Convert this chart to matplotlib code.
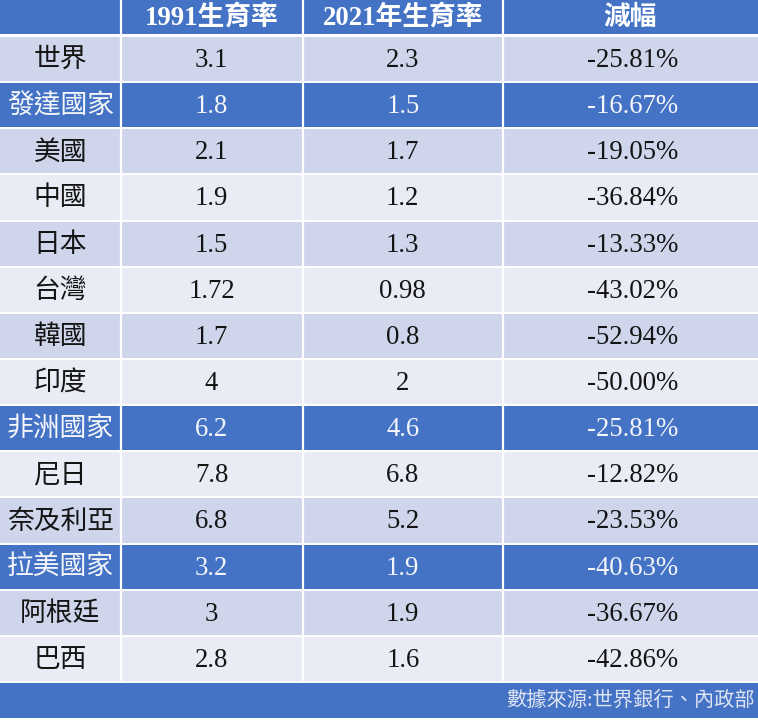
import matplotlib
matplotlib.use("Agg")
import matplotlib.pyplot as plt
from matplotlib.patches import Rectangle

# ---- data ----
headers = ["", "1991生育率", "2021年生育率", "減幅"]
regions = ["世界", "發達國家", "美國", "中國", "日本", "台灣", "韓國", "印度",
           "非洲國家", "尼日", "奈及利亞", "拉美國家", "阿根廷", "巴西"]
rate_1991 = [3.1, 1.8, 2.1, 1.9, 1.5, 1.72, 1.7, 4, 6.2, 7.8, 6.8, 3.2, 3, 2.8]
rate_2021 = [2.3, 1.5, 1.7, 1.2, 1.3, 0.98, 0.8, 2, 4.6, 6.8, 5.2, 1.9, 1.9, 1.6]
decline = [-25.81, -16.67, -19.05, -36.84, -13.33, -43.02, -52.94, -50.00,
           -25.81, -12.82, -23.53, -40.63, -36.67, -42.86]
highlight = ["發達國家", "非洲國家", "拉美國家"]
source = "數據來源:世界銀行、內政部"

# ---- layout ----
W, H = 758, 720
col_edges = [0, 120.5, 302.5, 503, 758]
header_top, header_bot = 0, 34.5
row_top, row_h = 36, 46.14
footer_bot = 718

BLUE = "#4472C4"
BAND1 = "#CFD5EA"
BAND2 = "#E9EBF5"
fam = ["Liberation Serif", "Noto Sans CJK TC", "DejaVu Sans"]
FS = 19.3

fig = plt.figure(figsize=(W / 100, H / 100), dpi=100)
fig.patch.set_facecolor("white")
ax = fig.add_axes([0, 0, 1, 1])
ax.set_xlim(0, W)
ax.set_ylim(H, 0)
ax.axis("off")

# header
ax.add_patch(Rectangle((0, header_top), W, header_bot - header_top, facecolor=BLUE, edgecolor="none"))
for j, h in enumerate(headers):
    xc = (col_edges[j] + col_edges[j + 1]) / 2
    ax.text(xc, (header_top + header_bot) / 2 + 1, h, ha="center", va="center",
            fontsize=FS, fontweight="bold", color="white", family=fam)

n = len(regions)
for i in range(n):
    y0 = row_top + i * row_h
    hl = regions[i] in highlight
    bg = BLUE if hl else (BAND1 if i % 2 == 0 else BAND2)
    tc = "#F4F6FB" if hl else "#141414"
    ax.add_patch(Rectangle((0, y0), W, row_h, facecolor=bg, edgecolor="none"))
    vals = [regions[i], f"{rate_1991[i]:g}", f"{rate_2021[i]:g}", f"{decline[i]:.2f}%"]
    for j, v in enumerate(vals):
        xc = (col_edges[j] + col_edges[j + 1]) / 2
        ax.text(xc + (2 if j == 3 else 0), y0 + row_h / 2 + 1.5, v, ha="center", va="center",
                fontsize=FS, color=tc, family=fam)
    # horizontal separator
    ax.plot([0, W], [y0, y0], color="white", lw=1.4, solid_capstyle="butt")

table_bot = row_top + n * row_h
# vertical separators
for x in col_edges[1:-1]:
    ax.plot([x, x], [header_top, table_bot], color="white", lw=1.6, solid_capstyle="butt")
# thick white line under header
ax.add_patch(Rectangle((0, header_bot - 0.5), W, row_top - header_bot + 1, facecolor="white", edgecolor="none"))

# footer
ax.add_patch(Rectangle((0, table_bot), W, footer_bot - table_bot, facecolor=BLUE, edgecolor="none"))
ax.plot([0, W], [table_bot, table_bot], color="white", lw=1.4)
ax.text(W - 3, (table_bot + footer_bot) / 2 + 1.5, source, ha="right", va="center",
        fontsize=14.6, color="#DCE3F3", family=fam)

fig.savefig("out.png", dpi=100)
